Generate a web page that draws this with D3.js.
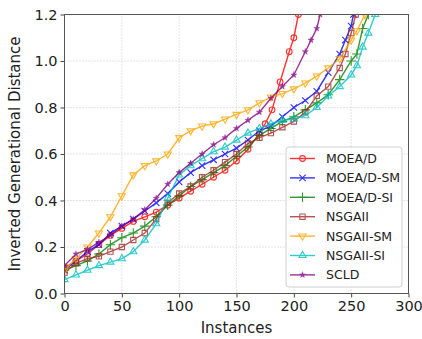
<!DOCTYPE html>
<html>
<head>
<meta charset="utf-8">
<script src="https://cdn.jsdelivr.net/npm/d3@7"></script>
<style>
  body { margin: 0; background: #fff; }
  text { font-family: "DejaVu Sans", sans-serif; fill: #222; }
</style>
</head>
<body>
<svg id="chart" width="422" height="339"></svg>
<script>
// [instance, IGD]
var seriesNames = ["MOEA/D", "MOEA/D-SM", "MOEA/D-SI", "NSGAII", "NSGAII-SM", "NSGAII-SI", "SCLD"];
var moead = [[0,0.11],[10,0.14],[20,0.17],[30,0.21],[40,0.25],[50,0.28],[60,0.31],[70,0.33],[80,0.35],[90,0.38],[100,0.41],[110,0.44],[120,0.47],[130,0.50],[140,0.53],[150,0.57],[160,0.62],[170,0.69],[175,0.73],[181,0.79],[188,0.91],[196,1.04],[200,1.10],[204,1.20],[206,1.40]];
var moeadSM = [[0,0.10],[10,0.14],[20,0.18],[30,0.21],[40,0.26],[50,0.29],[60,0.32],[70,0.355],[80,0.39],[90,0.43],[100,0.48],[110,0.52],[120,0.55],[130,0.575],[140,0.60],[150,0.625],[160,0.66],[170,0.70],[180,0.72],[190,0.76],[200,0.80],[210,0.83],[220,0.87],[230,0.95],[240,1.03],[245,1.09],[250,1.15],[252,1.20],[255,1.40]];
var moeadSI = [[0,0.10],[10,0.12],[20,0.14],[30,0.17],[40,0.21],[50,0.24],[60,0.26],[70,0.29],[80,0.33],[90,0.38],[100,0.42],[110,0.46],[120,0.49],[130,0.52],[140,0.55],[150,0.59],[160,0.63],[170,0.68],[180,0.71],[190,0.74],[200,0.76],[210,0.79],[220,0.82],[230,0.855],[240,0.92],[250,1.00],[255,1.03],[260,1.14],[265,1.20],[268,1.40]];
var nsgaii = [[0,0.09],[10,0.13],[20,0.15],[30,0.16],[40,0.18],[50,0.20],[60,0.23],[70,0.26],[80,0.32],[90,0.39],[100,0.43],[110,0.46],[120,0.50],[130,0.53],[140,0.565],[150,0.60],[160,0.645],[170,0.67],[180,0.69],[190,0.715],[200,0.74],[210,0.78],[220,0.85],[230,0.89],[240,0.97],[245,1.03],[250,1.12],[254,1.20],[257,1.40]];
var nsgaiiSM = [[0,0.10],[10,0.15],[20,0.20],[30,0.26],[40,0.33],[50,0.42],[60,0.51],[70,0.55],[80,0.57],[90,0.60],[100,0.67],[110,0.70],[120,0.72],[130,0.73],[140,0.75],[150,0.77],[160,0.79],[170,0.82],[180,0.845],[190,0.86],[200,0.88],[210,0.905],[220,0.935],[230,0.97],[240,1.01],[250,1.09],[255,1.13],[262,1.20],[265,1.40]];
var nsgaiiSI = [[0,0.06],[10,0.08],[20,0.10],[30,0.12],[40,0.135],[50,0.15],[60,0.18],[70,0.23],[80,0.30],[90,0.41],[100,0.51],[110,0.55],[120,0.58],[130,0.61],[140,0.63],[150,0.66],[160,0.69],[170,0.71],[180,0.73],[190,0.745],[200,0.75],[210,0.765],[220,0.80],[230,0.85],[240,0.89],[250,0.94],[255,0.98],[260,1.06],[265,1.12],[271,1.20],[274,1.40]];
var scld = [[0,0.12],[10,0.17],[20,0.19],[30,0.22],[40,0.25],[50,0.29],[60,0.32],[70,0.36],[80,0.41],[90,0.47],[100,0.52],[110,0.56],[120,0.60],[130,0.64],[140,0.67],[150,0.71],[160,0.745],[170,0.78],[180,0.84],[190,0.89],[200,0.94],[210,1.04],[215,1.09],[220,1.14],[223,1.20],[226,1.40]];
var seriesData = [moead, moeadSM, moeadSI, nsgaii, nsgaiiSM, nsgaiiSI, scld];
var seriesColors = ["#ff0000", "#0000ff", "#008000", "#a52a2a", "#ffa500", "#00bfbf", "#800080"];
var seriesMarkers = ["circle", "x", "plus", "square", "tridown", "triup", "star"];
var xTicks = [0, 50, 100, 150, 200, 250, 300];
var yTicks = [0, 0.2, 0.4, 0.6, 0.8, 1.0, 1.2];

var svg = d3.select("#chart");
var x = d3.scaleLinear().domain([0, 300]).range([64.5, 408.5]);
var y = d3.scaleLinear().domain([0, 1.2]).range([293.5, 14.5]);

svg.append("clipPath").attr("id", "plotClip")
  .append("rect").attr("x", 64.5).attr("y", 14.5).attr("width", 344).attr("height", 279);

// grid
var grid = svg.append("g");
grid.selectAll("line.gx").data(xTicks).enter().append("line")
  .attr("x1", function(d){ return x(d); }).attr("x2", function(d){ return x(d); })
  .attr("y1", y(0)).attr("y2", y(1.2))
  .attr("stroke", "#c8c8c8").attr("stroke-dasharray", "1,2");
grid.selectAll("line.gy").data(yTicks).enter().append("line")
  .attr("y1", function(d){ return y(d); }).attr("y2", function(d){ return y(d); })
  .attr("x1", x(0)).attr("x2", x(300))
  .attr("stroke", "#c8c8c8").attr("stroke-dasharray", "1,2");

function markerPath(kind) {
  if (kind === "circle") return d3.symbol(d3.symbolCircle, 26)();
  if (kind === "square") return d3.symbol(d3.symbolSquare, 28)();
  if (kind === "x") return d3.symbol(d3.symbolTimes, 28)();
  if (kind === "plus") return d3.symbol(d3.symbolPlus, 32)();
  if (kind === "star") return d3.symbol(d3.symbolStar, 12)();
  return d3.symbol(d3.symbolTriangle, 22)();
}
function drawMarker(sel, kind, color) {
  var p = sel.append("path").attr("d", markerPath(kind)).attr("stroke", color);
  if (kind === "star") p.attr("fill", color).attr("stroke-width", 0.4);
  else p.attr("fill", "none").attr("stroke-width", 1.1);
  if (kind === "tridown") p.attr("transform", "rotate(180)");
}

var line = d3.line().x(function(d){ return x(d[0]); }).y(function(d){ return y(d[1]); });
var plot = svg.append("g").attr("clip-path", "url(#plotClip)");
seriesData.forEach(function(data, i) {
  var g = plot.append("g").attr("opacity", 0.8);
  g.append("path").datum(data).attr("d", line)
    .attr("fill", "none").attr("stroke", seriesColors[i]).attr("stroke-width", 1.4);
  g.selectAll("g.m").data(data).enter().append("g")
    .attr("transform", function(d){ return "translate(" + x(d[0]) + "," + y(d[1]) + ")"; })
    .each(function() { drawMarker(d3.select(this), seriesMarkers[i], seriesColors[i]); });
});

// axes
var xAxis = svg.append("g").attr("transform", "translate(0," + y(0) + ")")
  .call(d3.axisBottom(x).tickValues(xTicks).tickFormat(d3.format("d")).tickSize(4).tickPadding(3));
var yAxis = svg.append("g").attr("transform", "translate(" + x(0) + ",0)")
  .call(d3.axisLeft(y).tickValues(yTicks).tickFormat(d3.format(".1f")).tickSize(4).tickPadding(3));
[xAxis, yAxis].forEach(function(a) {
  a.select(".domain").remove();
  a.selectAll("line").attr("stroke", "#444");
  a.selectAll("text").attr("font-size", 14.5).attr("font-family", "DejaVu Sans").attr("fill", "#222");
});
svg.append("rect").attr("x", x(0)).attr("y", y(1.2)).attr("width", x(300) - x(0)).attr("height", y(0) - y(1.2))
  .attr("fill", "none").attr("stroke", "#555").attr("stroke-width", 1);

svg.append("text").attr("x", (x(0) + x(300)) / 2).attr("y", 333)
  .attr("text-anchor", "middle").attr("font-size", 15).text("Instances");
svg.append("text").attr("transform", "translate(20," + ((y(0) + y(1.2)) / 2) + ") rotate(-90)")
  .attr("text-anchor", "middle").attr("font-size", 15).text("Inverted Generational Distance");

// legend
var legend = svg.append("g").attr("transform", "translate(286,147)");
legend.append("rect").attr("width", 116).attr("height", 140).attr("rx", 3)
  .attr("fill", "#fff").attr("fill-opacity", 0.8).attr("stroke", "#d0d0d0");
seriesNames.forEach(function(name, i) {
  var row = legend.append("g").attr("transform", "translate(0," + (11.5 + i * 19.4) + ")");
  var h = row.append("g").attr("opacity", 0.8);
  h.append("line").attr("x1", 4).attr("x2", 29).attr("stroke", seriesColors[i]).attr("stroke-width", 1.4);
  drawMarker(h.append("g").attr("transform", "translate(16.5,0)"), seriesMarkers[i], seriesColors[i]);
  row.append("text").attr("x", 40).attr("y", 4.5).attr("font-size", 12.5).text(name);
});
</script>
</body>
</html>
